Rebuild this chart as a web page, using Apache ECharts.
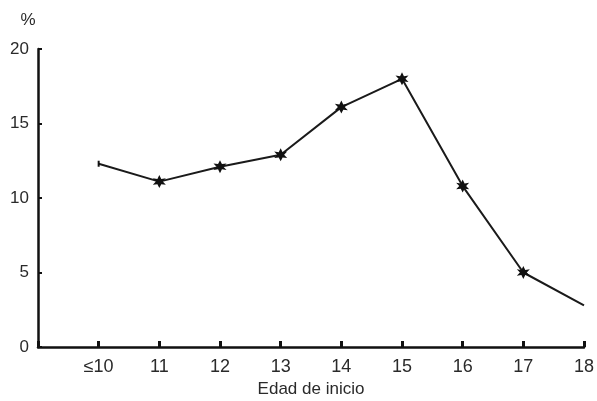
<!DOCTYPE html>
<html>
<head>
<meta charset="utf-8">
<script src="https://cdn.jsdelivr.net/npm/echarts@6/dist/echarts.min.js"></script>
<style>html,body{margin:0;padding:0;background:#fff}#c{width:597px;height:401px}</style>
</head>
<body>
<div id="c"></div>
<script>
var categories = ['', '≤10', '11', '12', '13', '14', '15', '16', '17', '18'];
var values = [null, 12.3, 11.1, 12.1, 12.9, 16.1, 18.0, 10.8, 5.0, 2.8];
var yTicks = [0, 5, 10, 15, 20];
var xTitle = 'Edad de inicio';
var yTitle = '%';

var STAR = 'path://M0,-10 L2.6,-4 L8.7,-5 L4.6,0 L8.7,5 L2.6,4 L0,10 L-2.6,4 L-8.7,5 L-4.6,0 L-8.7,-5 L-2.6,-4 Z';
var font = '"Liberation Sans",Arial,sans-serif';

var data = values.map(function (v, i) {
  if (v === null) return null;
  var d = { value: v };
  if (i === 1) { d.symbol = 'rect'; d.symbolSize = [2, 6]; }
  else if (i === values.length - 1) { d.symbol = 'none'; }
  return d;
});

var chart = echarts.init(document.getElementById('c'));
chart.setOption({
  animation: false,
  backgroundColor: '#fff',
  grid: { left: 38, right: 13, top: 49, bottom: 54, containLabel: false, outerBoundsMode: 'none' },
  xAxis: {
    type: 'category',
    data: categories,
    boundaryGap: false,
    name: xTitle,
    nameLocation: 'middle',
    nameGap: 34,
    nameTextStyle: { fontFamily: font, fontSize: 17, color: '#2a2a2a' },
    axisLine: { lineStyle: { color: '#111', width: 2.5 } },
    axisTick: { inside: true, length: 6, lineStyle: { color: '#111', width: 3 } },
    axisLabel: { fontFamily: font, fontSize: 18, color: '#2a2a2a', margin: 11 },
    splitLine: { show: false }
  },
  yAxis: {
    type: 'value',
    min: yTicks[0],
    max: yTicks[yTicks.length - 1],
    interval: 5,
    name: yTitle,
    nameGap: 20,
    nameTextStyle: { fontFamily: font, fontSize: 17, color: '#2a2a2a', align: 'center', padding: [0, 20, 0, 0] },
    axisLine: { show: true, lineStyle: { color: '#111', width: 2.5 } },
    axisTick: { show: true, inside: true, length: 4, lineStyle: { color: '#111', width: 2 } },
    axisLabel: { fontFamily: font, fontSize: 17, color: '#2a2a2a', margin: 9 },
    splitLine: { show: false }
  },
  series: [{
    type: 'line',
    data: data,
    connectNulls: false,
    symbol: STAR,
    symbolSize: 13,
    showAllSymbol: true,
    lineStyle: { color: '#1a1a1a', width: 2 },
    itemStyle: { color: '#111' }
  }]
});
</script>
</body>
</html>
